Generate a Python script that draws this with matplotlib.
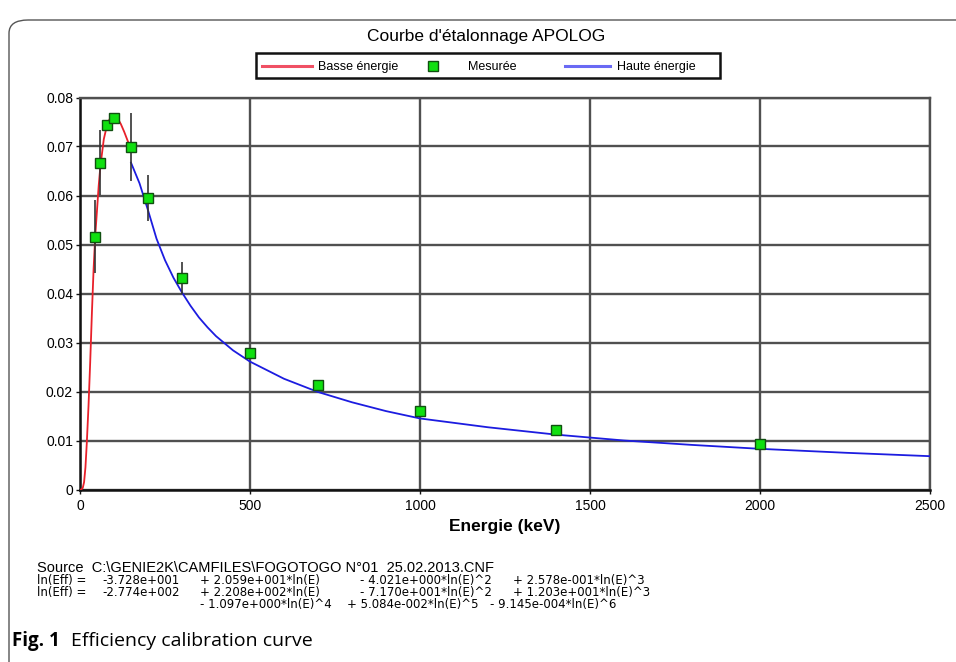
import matplotlib
matplotlib.use("Agg")
import matplotlib.pyplot as plt
from matplotlib.lines import Line2D
from matplotlib.patches import FancyBboxPatch, Rectangle

# ---- data ----
E_low = [3, 8, 12, 16, 20, 25, 30, 35, 40, 45, 50, 55, 60, 70, 80, 90, 100, 110, 120, 130, 140, 150]
eff_low = [0.0, 0.0003, 0.0015, 0.0045, 0.0095, 0.017, 0.026, 0.036, 0.045, 0.052, 0.057, 0.0620,
           0.0660, 0.0715, 0.0745, 0.0760, 0.0763, 0.0758, 0.0746, 0.0730, 0.0712, 0.0695]

E_high = [150, 175, 200, 225, 250, 275, 300, 325, 350, 375, 400, 450, 500, 600, 700, 800, 900,
          1000, 1200, 1400, 1600, 1800, 2000, 2250, 2500]
eff_high = [0.0667, 0.0625, 0.0570, 0.0512, 0.0468, 0.0432, 0.0402, 0.0375, 0.0351, 0.0331,
            0.0313, 0.0284, 0.0261, 0.0226, 0.0199, 0.0178, 0.0160, 0.0145, 0.0127, 0.0112,
            0.0100, 0.0091, 0.0083, 0.0075, 0.0068]

E_meas = [45, 60, 80, 100, 150, 200, 300, 500, 700, 1000, 1400, 2000]
eff_meas = [0.0516, 0.0667, 0.0743, 0.0759, 0.0699, 0.0595, 0.0431, 0.0278, 0.0213, 0.0160, 0.0122, 0.0093]
err_meas = [0.0075, 0.0066, 0.0, 0.0, 0.0070, 0.0047, 0.0033, 0.0006, 0.0010, 0.0, 0.0, 0.0]

x_ticks = [0, 500, 1000, 1500, 2000, 2500]
y_ticks = [0, 0.01, 0.02, 0.03, 0.04, 0.05, 0.06, 0.07, 0.08]
y_tick_labels = ["0", "0.01", "0.02", "0.03", "0.04", "0.05", "0.06", "0.07", "0.08"]

title = "Courbe d'étalonnage APOLOG"
legend_labels = ["Basse énergie", "Mesurée", "Haute énergie"]
xlabel = "Energie (keV)"
source_line = "Source  C:\\GENIE2K\\CAMFILES\\FOGOTOGO N°01  25.02.2013.CNF"
eq_rows = [
    ["ln(Eff) =", "-3.728e+001", "+ 2.059e+001*ln(E)", "- 4.021e+000*ln(E)^2", "+ 2.578e-001*ln(E)^3"],
    ["ln(Eff) =", "-2.774e+002", "+ 2.208e+002*ln(E)", "- 7.170e+001*ln(E)^2", "+ 1.203e+001*ln(E)^3"],
]
eq_last = ["- 1.097e+000*ln(E)^4", "+ 5.084e-002*ln(E)^5", "- 9.145e-004*ln(E)^6"]
caption_bold = "Fig. 1"
caption_text = "Efficiency calibration curve"

# ---- figure ----
W, H = 956, 662
plt.rcParams['font.family'] = ['Liberation Sans', 'DejaVu Sans']
fig = plt.figure(figsize=(W / 100, H / 100), dpi=100)

def fx(px):
    return px / W

def fy(py):
    return 1 - py / H

# outer rounded frame
frame = FancyBboxPatch((fx(9), fy(700)), fx(1000), fy(20) - fy(700),
                       boxstyle="round,pad=0,rounding_size=0.02",
                       transform=fig.transFigure, fill=False, edgecolor="#555555",
                       linewidth=1.0, clip_on=False)
fig.patches.append(frame)

ax = fig.add_axes([fx(80), fy(489.5), fx(930) - fx(80), fy(97.5) - fy(489.5)])
ax.set_xlim(0, 2500)
ax.set_ylim(0, 0.08)

grid_c = "#505050"
ax.set_xticks(x_ticks)
ax.set_yticks(y_ticks)
ax.set_yticklabels(y_tick_labels)
ax.grid(True, color=grid_c, linewidth=1.7)
ax.set_axisbelow(True)
for s in ["top", "right"]:
    ax.spines[s].set_color(grid_c)
    ax.spines[s].set_linewidth(1.7)
for s in ["left", "bottom"]:
    ax.spines[s].set_color("#111111")
    ax.spines[s].set_linewidth(1.8)
ax.tick_params(axis="both", length=3, width=1, color="#111111", labelsize=10, pad=2)
ax.tick_params(axis="x", pad=4)

red = "#e8202a"
blue = "#1c1ce0"
ax.plot(E_low, eff_low, color=red, linewidth=1.3, zorder=3)
ax.plot(E_high, eff_high, color=blue, linewidth=1.3, zorder=3)
ax.errorbar(E_meas, eff_meas, yerr=err_meas, fmt="none", ecolor="#333333",
            elinewidth=1.2, capsize=0, zorder=4)
ax.plot(E_meas, eff_meas, linestyle="none", marker="s", markersize=6.5,
        markerfacecolor="#10e010", markeredgecolor="#105010", markeredgewidth=1.0, zorder=5)

ax.set_xlabel(xlabel, fontsize=12.5, fontweight="bold", labelpad=4)

fig.text(fx(486), fy(41), title, ha="center", va="baseline", fontsize=12.5)

# legend box drawn by hand to match spacing
ly = fy(65.5)
fig.patches.append(Rectangle((fx(256), fy(78)), fx(720) - fx(256), fy(53) - fy(78),
                             transform=fig.transFigure, fill=True, facecolor="white",
                             edgecolor="#111111", linewidth=1.8))
fig.lines.append(Line2D([fx(262), fx(312)], [ly, ly], transform=fig.transFigure,
                        color="#f05064", linewidth=2.2))
fig.lines.append(Line2D([fx(433)], [ly], transform=fig.transFigure, linestyle="none",
                        marker="s", markersize=6.5, markerfacecolor="#10e010",
                        markeredgecolor="#105010", markeredgewidth=1.0))
fig.lines.append(Line2D([fx(565), fx(610)], [ly, ly], transform=fig.transFigure,
                        color="#6a6af4", linewidth=2.2))
for xt, lab in zip([318, 468, 617], legend_labels):
    fig.text(fx(xt), fy(69.8), lab, ha="left", va="baseline", fontsize=9)

# bottom text block
eq_font = ["DejaVu Sans"]
fig.text(fx(37), fy(571.5), source_line, ha="left", va="baseline", fontsize=10.5)
col_x = [37, 102, 200, 360, 513]
row_base = [584, 596]
for r, row in enumerate(eq_rows):
    for c, t in enumerate(row):
        fig.text(fx(col_x[c]), fy(row_base[r]), t, ha="left", va="baseline",
                 fontsize=8.5, family=eq_font)
for xt, t in zip([200, 347, 490], eq_last):
    fig.text(fx(xt), fy(608), t, ha="left", va="baseline", fontsize=8.5, family=eq_font)

fig.text(fx(12), fy(641), caption_bold, ha="left", va="center", fontsize=13.5,
         fontweight="bold", family=["Open Sans", "DejaVu Sans"])
fig.text(fx(71), fy(641), caption_text, ha="left", va="center", fontsize=14,
         family=["Open Sans", "DejaVu Sans"])

fig.savefig("out.png", dpi=100)
